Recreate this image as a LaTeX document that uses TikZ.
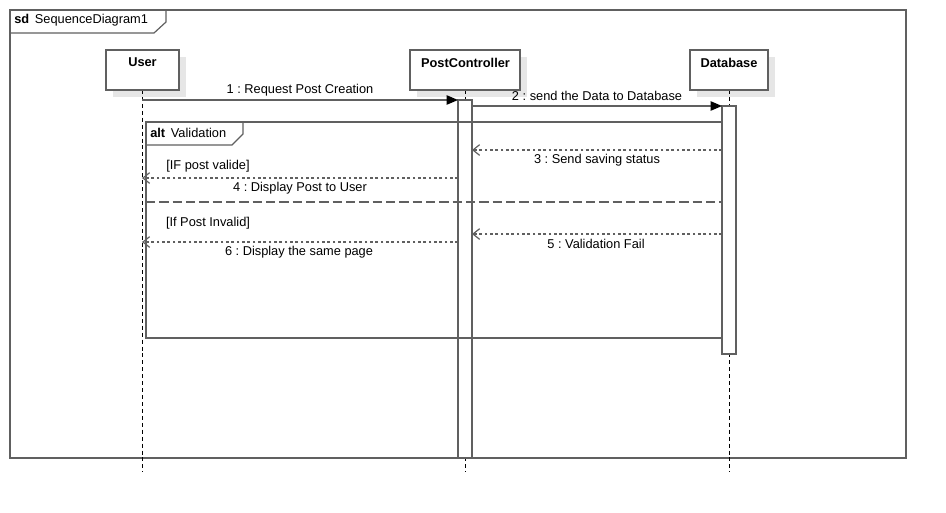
\documentclass[tikz,border=0pt]{standalone}
\usepackage{fontspec}
\setmainfont{Liberation Sans}
\usetikzlibrary{arrows.meta}
\frenchspacing
\definecolor{ln}{HTML}{606060}
\definecolor{shd}{HTML}{E6E6E6}
\tikzset{
  x=0.75pt, y=-0.75pt,
  every node/.style={font=\fontsize{9.6}{11}\selectfont, text=black, inner sep=0pt},
  frame/.style={draw=ln, line width=0.9pt},
  head/.style={draw=ln, line width=0.9pt, fill=white},
  life/.style={draw=black, line width=0.6pt, dash pattern=on 3pt off 2.2pt},
  act/.style={draw=ln, line width=0.9pt, fill=white},
  sync/.style={draw=ln, line width=0.9pt, -{Triangle[length=8.5pt, width=7pt, color=black]}},
  ret/.style={draw=ln, line width=0.9pt, dash pattern=on 2pt off 2pt, -{Straight Barb[length=5pt, width=8pt]}},
  divider/.style={draw=ln, line width=0.9pt, dash pattern=on 7pt off 3pt},
}
\begin{document}
\begin{tikzpicture}
\useasboundingbox (0,0) rectangle (946,512);
% outer frame
\draw[frame] (10,10) rectangle (906,458);
\draw[frame] (10,10) -- (166,10) -- (166,22) -- (154,33) -- (10,33) -- cycle;
\node[anchor=west] (sdlbl) at (14,20.5) {\textbf{sd}\, SequenceDiagram1};
% shadows
\fill[shd] (113,57) rectangle (186,97);
\fill[shd] (417,57) rectangle (527,97);
\fill[shd] (697,57) rectangle (775,97);
% lifelines
\coordinate (ue) at (142,472);
\coordinate (pe) at (465,472);
\coordinate (de) at (729,472);
\draw[life] (142,90) -- (ue);
\draw[life] (465,90) -- (pe);
\draw[life] (729,90) -- (de);
% heads
\draw[head] (106,50) rectangle (179,90);
\node[font=\fontsize{9.6}{11}\selectfont\bfseries] (user) at (142.5,62.5) {User};
\draw[head] (410,50) rectangle (520,90);
\node[font=\fontsize{9.6}{11}\selectfont\bfseries] (pc) at (465.5,62.5) {PostController};
\draw[head] (690,50) rectangle (768,90);
\node[font=\fontsize{9.6}{11}\selectfont\bfseries] (db) at (729,62.5) {Database};
% activations
\draw[act] (458,100) rectangle (472,458);
\draw[act] (722,106) rectangle (736,354);
% coordinates
\coordinate (u1) at (142,100);
\coordinate (p1) at (458,100);
\coordinate (p2) at (472,106);
\coordinate (d2) at (722,106);
\coordinate (d3) at (722,150);
\coordinate (p3) at (472,150);
\coordinate (p4) at (458,178);
\coordinate (u4) at (142,178);
\coordinate (d5) at (722,234);
\coordinate (p5) at (472,234);
\coordinate (p6) at (458,242);
\coordinate (u6) at (142,242);
% messages
\draw[sync] (u1) -- (p1);
\node (m1) at (300,90) {1 : Request Post Creation};
\draw[sync] (p2) -- (d2);
\node (m2) at (597,96) {2 : send the Data to Database};
% alt frame
\draw[frame] (146,122) rectangle (722,338);
\draw[frame] (146,122) -- (243,122) -- (243,134) -- (232,145) -- (146,145) -- cycle;
\node[anchor=west] (altlbl) at (150,133) {\textbf{alt}\, Validation};
\coordinate (dl) at (146,202);
\coordinate (dr) at (722,202);
\draw[divider] (dl) -- (dr);
\node (g1) at (208,166) {[IF post valide]};
\node (g2) at (208,223) {[If Post Invalid]};
% returns
\draw[ret] (d3) -- (p3);
\node (m3) at (597,160) {3 : Send saving status};
\draw[ret] (p4) -- (u4);
\node (m4) at (300,188) {4 : Display Post to User};
\draw[ret] (d5) -- (p5);
\node (m5) at (596,244) {5 : Validation Fail};
\draw[ret] (p6) -- (u6);
\node (m6) at (299,252) {6 : Display the same page};
\end{tikzpicture}
\end{document}
